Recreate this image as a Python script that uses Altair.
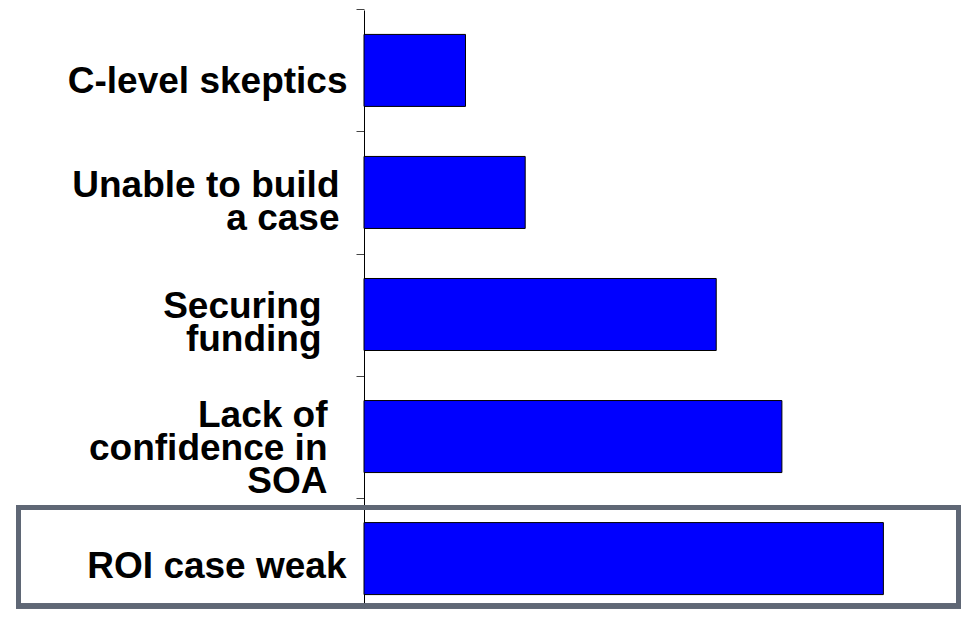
import altair as alt
import pandas as pd

categories = [
    "C-level skeptics",
    "Unable to build\na case",
    "Securing\nfunding",
    "Lack of\nconfidence in\nSOA",
    "ROI case weak",
]
values = [17, 27, 59, 70, 87]

df = pd.DataFrame({"cat": categories, "value": values})


def per_label(mapping, default):
    return {
        "condition": [
            {"test": "datum.value === " + repr(k), "value": v}
            for k, v in mapping.items()
        ],
        "value": default,
    }


# ticks are shifted up half a band (-61 px); labels get that back
label_offsets = per_label(
    {categories[1]: 54, categories[2]: 53, categories[3]: 40, categories[4]: 69}, 72
)
label_paddings = per_label(
    {categories[1]: 17, categories[2]: 35, categories[3]: 29, categories[4]: 10}, 9
)

bars = alt.Chart(df).mark_bar(
    color="#0000FF", stroke="#000000", strokeWidth=1
).encode(
    x=alt.X("value:Q", axis=None, scale=alt.Scale(domain=[0, 100], nice=False)),
    y=alt.Y(
        "cat:N",
        sort=categories,
        title=None,
        scale=alt.Scale(paddingInner=0.41, paddingOuter=0.2, range=[0, 609]),
        axis=alt.Axis(
            labelExpr="split(datum.label, '\\n')",
            labelFont="Liberation Sans",
            labelFontWeight="bold",
            labelFontSize=37,
            labelColor="#000000",
            labelLineHeight=33,
            labelOffset=label_offsets,
            labelPadding=label_paddings,
            labelAlign="right",
            labelBaseline="middle",
            labelLimit=0,
            tickBand="center",
            tickOffset=-61,
            tickSize=8,
            tickColor="#444444",
            domainColor="#000000",
            domainWidth=1,
            grid=False,
        ),
    ),
)

highlight = alt.Chart(df).mark_rect(
    filled=False, stroke="#5f6775", strokeWidth=5
).encode(
    x=alt.value(-345.5),
    x2=alt.value(594.5),
    y=alt.value(497.5),
    y2=alt.value(596),
)

chart = alt.layer(bars, highlight).properties(
    width=597,
    height=599,
    autosize=alt.AutoSizeParams(type="none"),
    padding={"left": 356, "top": 2, "right": 0, "bottom": 0},
).configure(background="white").configure_view(stroke=None)

chart.save("out.html", embed_options={"renderer": "svg", "actions": False})
